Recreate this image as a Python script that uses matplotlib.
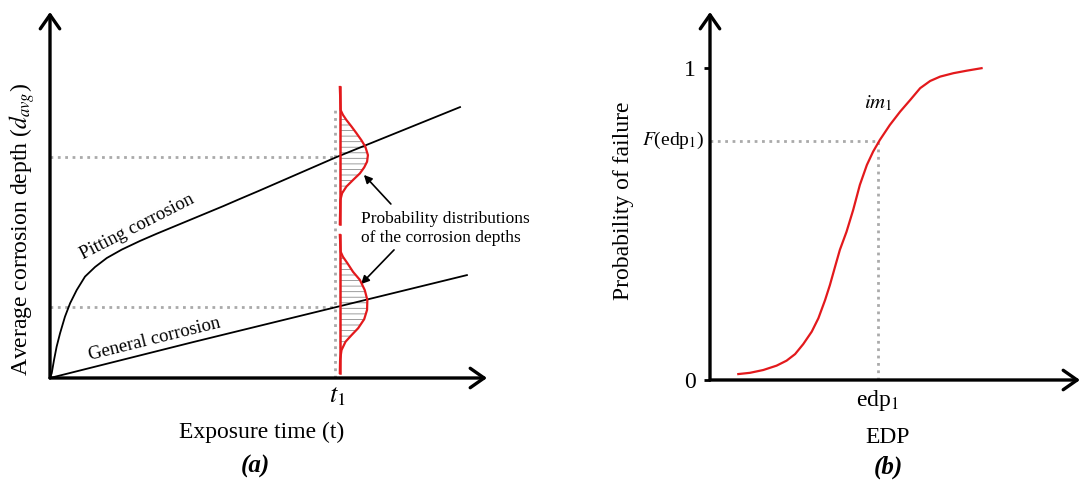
import numpy as np
import matplotlib
matplotlib.use('Agg')
import matplotlib.pyplot as plt

plt.rcParams['font.family'] = ['Liberation Serif', 'DejaVu Serif']
plt.rcParams['mathtext.fontset'] = 'stix'
plt.rcParams['hatch.linewidth'] = 0.6

# (a) profundidad media de corrosión vs tiempo (t1 = 1)
t1 = 1.0
t_pit = [0, 0.006, 0.014, 0.023, 0.035, 0.052, 0.070, 0.093, 0.122, 0.157, 0.198, 0.250,
         0.314, 0.372, 0.430, 0.488, 0.546, 0.604, 0.662, 0.726, 1.0, 1.429]
d_pit = [0, 0.016, 0.060, 0.104, 0.149, 0.204, 0.249, 0.293, 0.338, 0.370, 0.400, 0.428,
         0.457, 0.481, 0.504, 0.527, 0.550, 0.573, 0.597, 0.623, 0.737, 0.903]
t_gen = [0, 0.5, 1.0, 1.453]
d_gen = [0, 0.120, 0.237, 0.343]
d_pit_t1 = 0.737
d_gen_t1 = 0.237

# distribuciones de probabilidad en t1 (profundidad, densidad)
y_up = [0.970, 0.893, 0.877, 0.860, 0.838, 0.816, 0.793, 0.771, 0.743, 0.721, 0.702,
        0.682, 0.660, 0.638, 0.616, 0.593, 0.513]
w_up = [0, 0.003, 0.011, 0.023, 0.041, 0.058, 0.075, 0.089, 0.098, 0.095, 0.085,
        0.070, 0.046, 0.023, 0.008, 0.002, 0]
y_lo = [0.477, 0.421, 0.404, 0.382, 0.354, 0.327, 0.293, 0.260, 0.227, 0.196, 0.166,
        0.143, 0.121, 0.093, 0.060, 0.017]
w_lo = [0, 0.003, 0.011, 0.027, 0.046, 0.070, 0.087, 0.096, 0.095, 0.085, 0.064,
        0.041, 0.020, 0.006, 0.001, 0]

# (b) curva de fragilidad
edp = [0.0765, 0.108, 0.144, 0.180, 0.207, 0.230, 0.252, 0.275, 0.293, 0.311, 0.324,
       0.338, 0.351, 0.369, 0.387, 0.405, 0.424, 0.441, 0.459, 0.486, 0.514, 0.541,
       0.568, 0.595, 0.622, 0.658, 0.694, 0.734]
pf = [0.019, 0.023, 0.032, 0.046, 0.062, 0.083, 0.115, 0.155, 0.198, 0.256, 0.304,
      0.363, 0.417, 0.475, 0.545, 0.625, 0.689, 0.732, 0.769, 0.817, 0.860, 0.897,
      0.935, 0.958, 0.972, 0.983, 0.991, 0.999]
edp1 = 0.454
F_edp1 = 0.766

rojo = '#e3191c'
gris = '#aaaaaa'

fig = plt.figure(figsize=(10.81, 4.91), dpi=100)
ax1 = fig.add_axes([50/1081, 113/491, 437/1081, 366/491])
ax2 = fig.add_axes([710/1081, 111/491, 370/1081, 368/491])

axis_arrow = dict(arrowstyle='->, head_length=0.5, head_width=0.35', lw=2.4,
                  color='black', mutation_scale=20, shrinkA=0, shrinkB=0)
for ax in (ax1, ax2):
    for s in ax.spines.values():
        s.set_visible(False)
    ax.annotate('', xy=(1, 0), xytext=(0, 0), xycoords='axes fraction', arrowprops=axis_arrow)
    ax.annotate('', xy=(0, 1), xytext=(0, 0), xycoords='axes fraction', arrowprops=axis_arrow)

# ---- panel (a)
ax1.set_xlim(0, 1.523)
ax1.set_ylim(0, 1.22)
ax1.plot(t_pit, d_pit, color='black', lw=1.3, zorder=3)
ax1.plot(t_gen, d_gen, color='black', lw=1.3, zorder=3)
ax1.plot([0, t1], [d_pit_t1, d_pit_t1], ls=':', color=gris, lw=2, zorder=1)
ax1.plot([0, t1], [d_gen_t1, d_gen_t1], ls=':', color=gris, lw=2, zorder=1)
ax1.plot([t1 - 0.008, t1 - 0.008], [0, 0.9], ls=':', color=gris, lw=2, zorder=1)

base = t1 + 0.01
for y, w in ((y_up, w_up), (y_lo, w_lo)):
    y = np.array(y)
    w = np.array(w)
    ax1.fill_betweenx(y, base, base + w, facecolor='none', edgecolor='#8c8c8c',
                      linewidth=0, hatch='---', zorder=2)
    ax1.plot(base + w, y, color=rojo, lw=1.6, zorder=4)
    ax1.plot([base, base], [y.min(), y.max()], color=rojo, lw=1.8, zorder=4)

ax1.text(0.305, 0.503, 'Pitting corrosion', rotation=27, fontsize=13.5,
         ha='center', va='center', rotation_mode='anchor')
ax1.text(0.366, 0.128, 'General corrosion', rotation=14, fontsize=13.5,
         ha='center', va='center', rotation_mode='anchor')
ax1.text(1.084, 0.497, 'Probability distributions\nof the corrosion depths',
         fontsize=12.5, ha='left', va='center', linespacing=1.25)
small_arrow = dict(arrowstyle='-|>', lw=1.2, color='black', mutation_scale=12,
                   shrinkA=0, shrinkB=0)
ax1.annotate('', xy=(1.094, 0.677), xytext=(1.188, 0.58), arrowprops=small_arrow)
ax1.annotate('', xy=(1.084, 0.313), xytext=(1.199, 0.427), arrowprops=small_arrow)

ax1.set_xticks([t1])
ax1.set_xticklabels([r'$t_1$'])
ax1.set_yticks([])
ax1.tick_params(axis='x', length=0, labelsize=19, pad=5)
ax1.text(-0.064, 0.407, r'Average corrosion depth ($d_{avg}$)', rotation=90,
         fontsize=17, ha='center', va='center', transform=ax1.transAxes)
ax1.text(0.485, -0.148, 'Exposure time (t)', fontsize=17, ha='center', va='center',
         transform=ax1.transAxes)
ax1.text(0.469, -0.243, '(a)', fontsize=18, fontweight='bold', fontstyle='italic',
         ha='center', va='center', transform=ax1.transAxes)

# ---- panel (b)
ax2.set_xlim(0, 1)
ax2.set_ylim(0, 1.179)
ax2.plot(edp, pf, color=rojo, lw=1.6, zorder=3)
ax2.plot([0, edp1], [F_edp1, F_edp1], ls=':', color=gris, lw=2, zorder=1)
ax2.plot([edp1, edp1], [0, F_edp1], ls=':', color=gris, lw=2, zorder=1)

ax2.set_yticks([0, 1])
ax2.set_yticklabels(['0', '1'])
ax2.tick_params(axis='y', length=4, width=2, labelsize=17, pad=6)
ax2.set_xticks([edp1])
ax2.set_xticklabels([r'edp$_1$'])
ax2.tick_params(axis='x', length=0, labelsize=17, pad=6)
ax2.text(-0.015, F_edp1, r'$F$(edp$_1$)', fontsize=14, ha='right', va='center',
         transform=ax2.get_yaxis_transform())
ax2.text(edp1, 0.885, r'$im_1$', fontsize=15, ha='center', va='center')
ax2.text(-0.235, 0.486, 'Probability of failure', rotation=90, fontsize=17,
         ha='center', va='center', transform=ax2.transAxes)
ax2.text(0.481, -0.155, 'EDP', fontsize=17, ha='center', va='center',
         transform=ax2.transAxes)
ax2.text(0.481, -0.236, '(b)', fontsize=18, fontweight='bold', fontstyle='italic',
         ha='center', va='center', transform=ax2.transAxes)

fig.savefig('out.png', dpi=100)
